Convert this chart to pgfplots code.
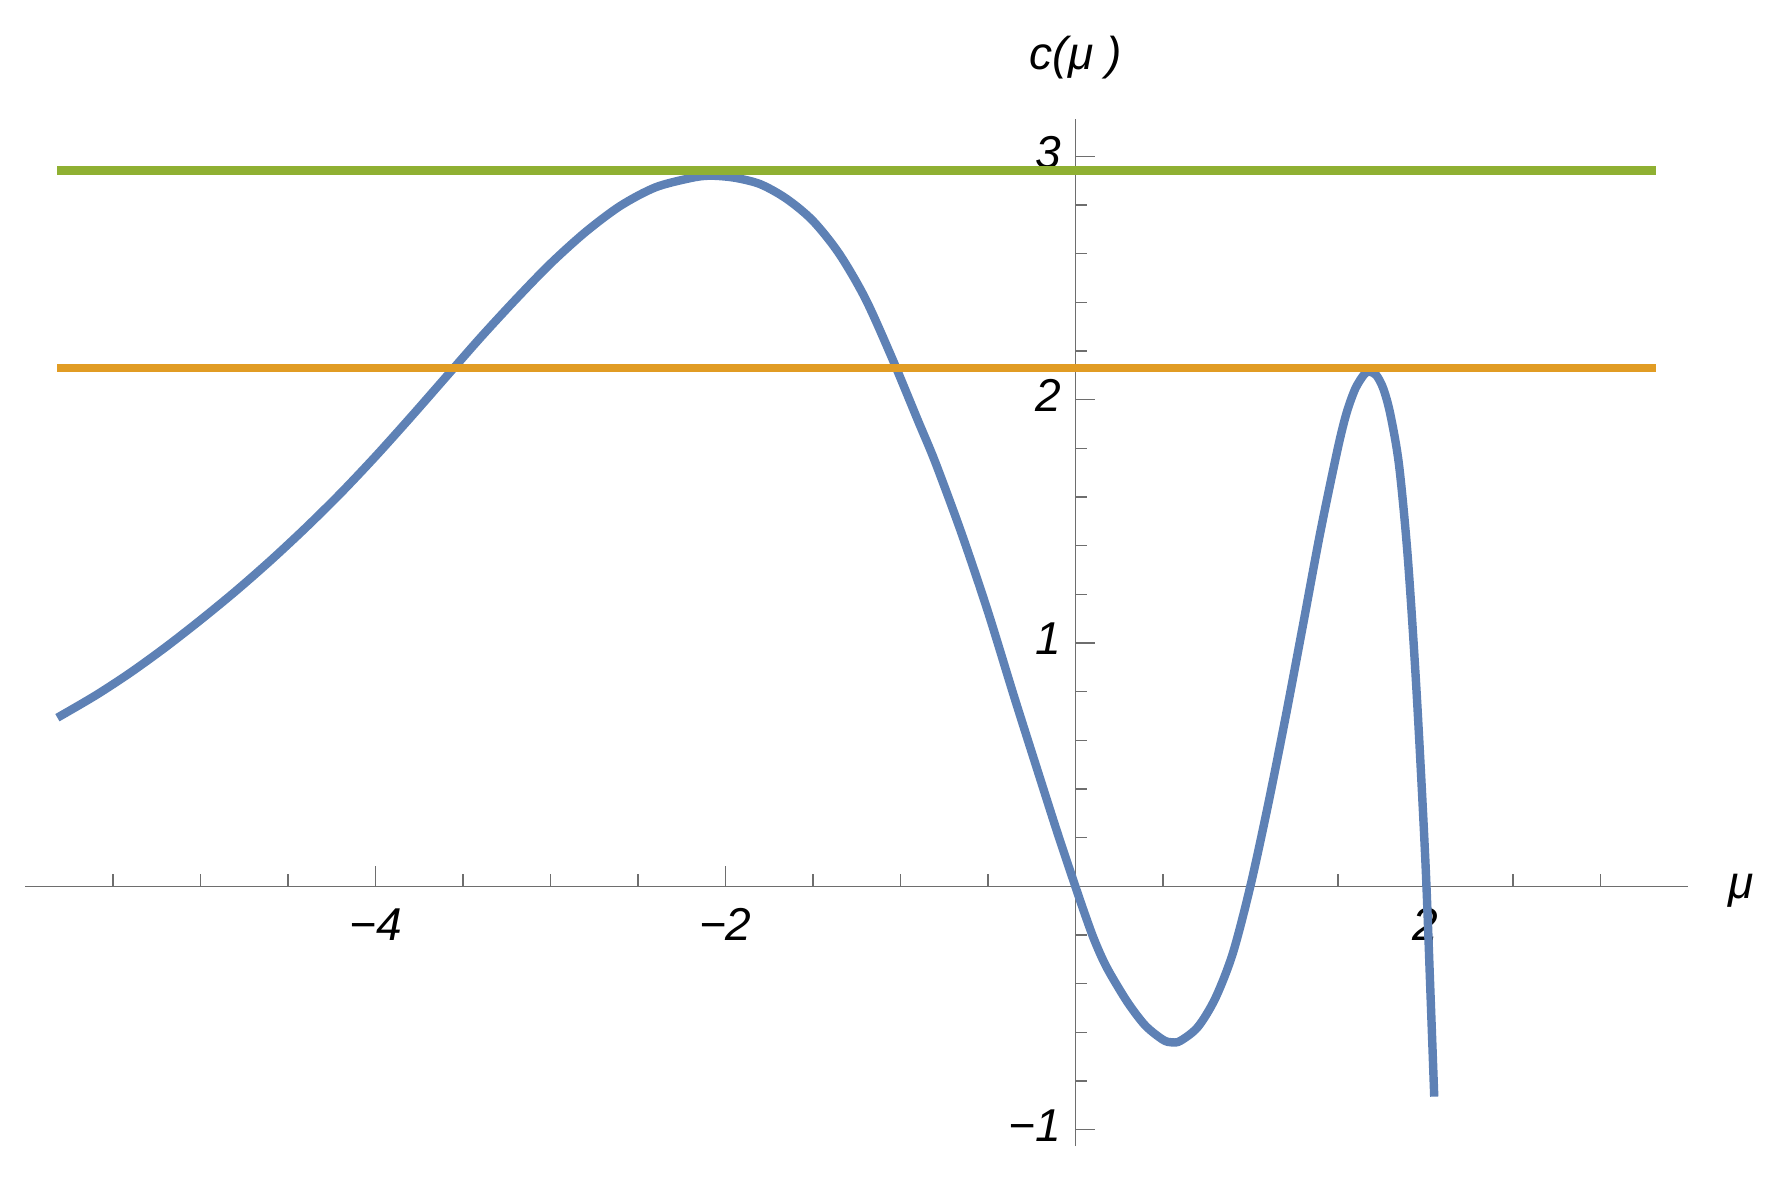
\documentclass[border=0pt]{standalone}
\usepackage{pgfplots}
\pgfplotsset{compat=1.18}
\usepackage{fontspec}
\setmainfont{Liberation Sans}

\definecolor{mblue}{RGB}{94,129,181}
\definecolor{morange}{RGB}{225,156,36}
\definecolor{mgreen}{RGB}{143,176,50}
\definecolor{axgray}{RGB}{110,110,110}

\begin{document}
\begin{tikzpicture}
\begin{axis}[
	scale only axis,
	width=415pt,
	height=256.5pt,
	xmin=-6, xmax=3.5,
	ymin=-1.067, ymax=3.155,
	axis lines=middle,
	axis line style={draw=axgray, line width=0.35pt, -},
	tick style={draw=axgray, line width=0.35pt},
	tick align=inside,
	major tick length=5pt,
	minor tick length=3pt,
	xtick={-4,-2,2},
	xticklabels={−4,−2,2},
	minor xtick={-5.5,-5,-4.5,-3.5,-3,-2.5,-1.5,-1,-0.5,0.5,1,1.5,2.5,3},
	ytick={-1,1,2,3},
	yticklabels={−1,1,2,3},
	minor ytick={-0.8,-0.6,-0.4,-0.2,0.2,0.4,0.6,0.8,1.2,1.4,1.6,1.8,2.2,2.4,2.6,2.8},
	ticklabel style={font=\fontsize{11.5}{13}\selectfont\itshape},
	xticklabel style={yshift=-2pt},
	yticklabel style={yshift=1pt},
	xlabel={\itshape μ},
	ylabel={\itshape c(μ )},
	every axis x label/.style={at={(current axis.right of origin)}, anchor=center, xshift=13.3pt, yshift=-1pt, font=\fontsize{11.5}{13}\selectfont},
	every axis y label/.style={at={(current axis.above origin)}, anchor=center, yshift=15.2pt, font=\fontsize{11.5}{13}\selectfont},
	clip=false,
]
% c(mu)
\addplot[mblue, line width=2.1pt, smooth, tension=0.5] coordinates {
(-5.817,0.693) (-5.6,0.784) (-5.4,0.878) (-5.2,0.982) (-5.0,1.094)
(-4.8,1.212) (-4.6,1.338) (-4.4,1.472) (-4.2,1.614) (-4.0,1.766)
(-3.8,1.926) (-3.6,2.090) (-3.4,2.254) (-3.2,2.410) (-3.0,2.558)
(-2.8,2.688) (-2.6,2.796) (-2.4,2.872) (-2.2,2.910) (-2.09,2.920)
(-1.95,2.912) (-1.8,2.885) (-1.65,2.825) (-1.5,2.735) (-1.35,2.60)
(-1.2,2.415) (-1.05,2.175) (-0.9,1.915) (-0.8,1.742) (-0.65,1.45)
(-0.5,1.13) (-0.35,0.78) (-0.2,0.44) (-0.1,0.215) (0,0)
(0.05,-0.105) (0.1,-0.205) (0.15,-0.29) (0.2,-0.36) (0.3,-0.478)
(0.4,-0.572) (0.5,-0.630) (0.55,-0.641) (0.6,-0.635) (0.7,-0.578)
(0.8,-0.46) (0.9,-0.275) (1.0,0) (1.1,0.33) (1.2,0.69)
(1.3,1.07) (1.4,1.455) (1.5,1.80) (1.55,1.945) (1.6,2.045)
(1.65,2.103) (1.68,2.115) (1.72,2.10) (1.76,2.045) (1.8,1.94)
(1.85,1.73) (1.9,1.35) (1.95,0.80) (2.0,0.11) (2.03,-0.45)
(2.051,-0.864)
};
\addplot[morange, line width=2.1pt] coordinates {(-5.817,2.130) (3.321,2.130)};
\addplot[mgreen, line width=2.1pt] coordinates {(-5.817,2.941) (3.321,2.941)};
\coordinate (bl) at (axis cs:-6.145,-1.247);
\coordinate (tr) at (axis cs:3.987,3.642);
\end{axis}
\pgfresetboundingbox
\path[use as bounding box] (bl) rectangle (tr);
\end{tikzpicture}
\end{document}
